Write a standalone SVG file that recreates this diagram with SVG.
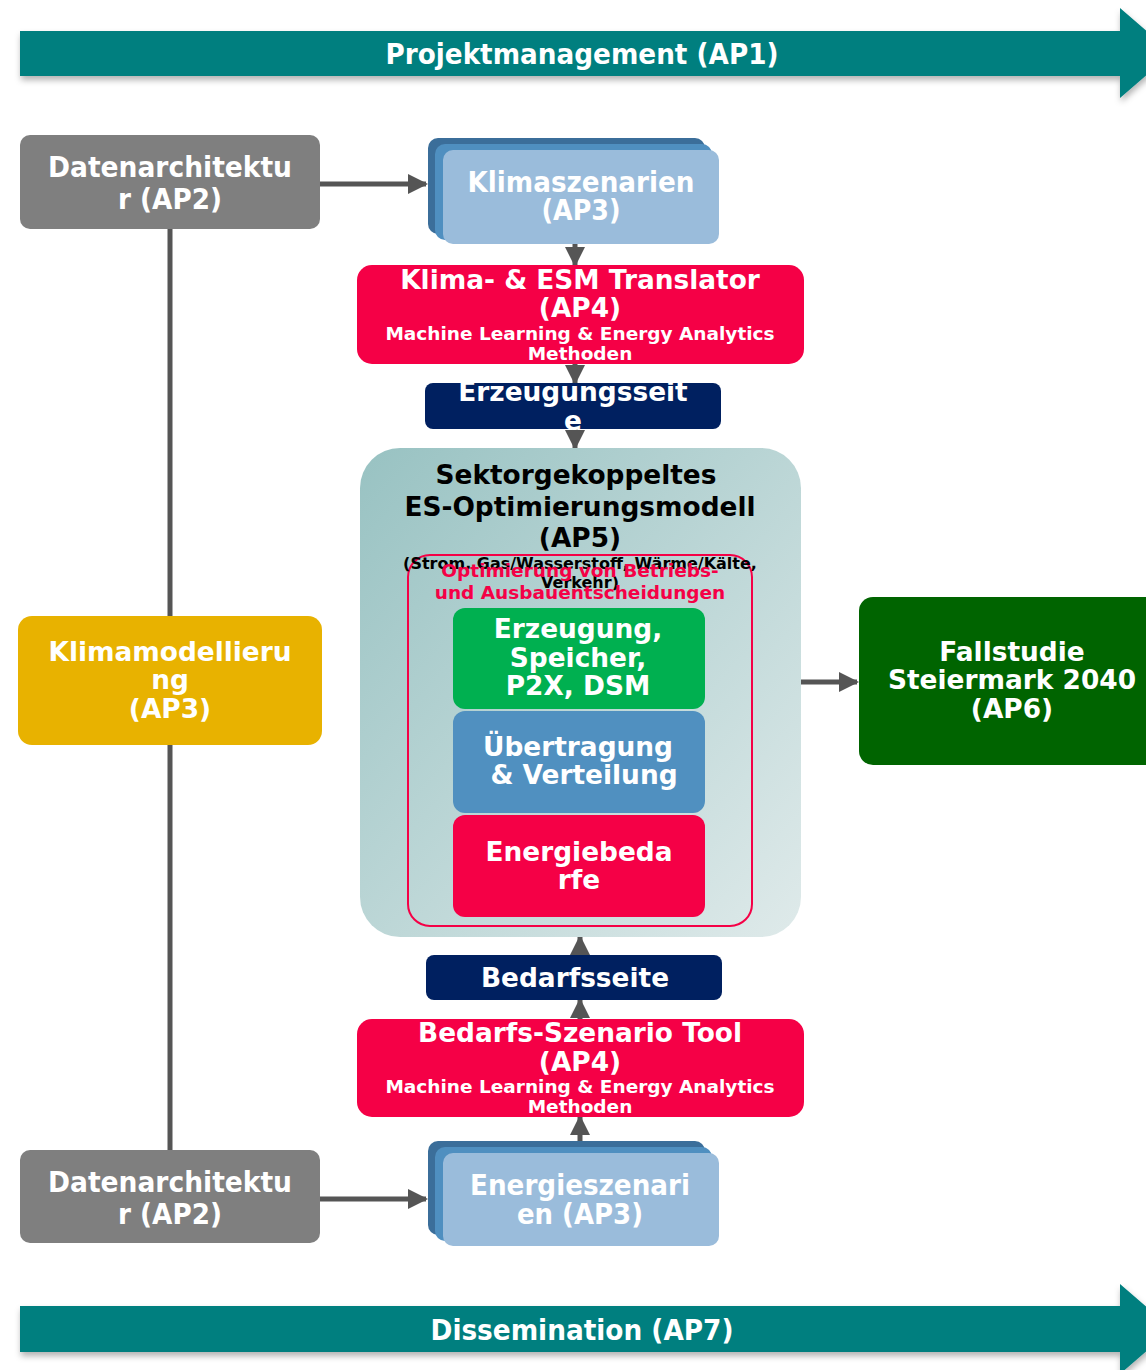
<svg xmlns="http://www.w3.org/2000/svg" width="1146" height="1370" viewBox="0 0 1146 1370">
<defs>
<style>
text{font-family:"DejaVu Sans","Liberation Sans",sans-serif;font-weight:bold;text-anchor:middle;fill:#fff}
.t26{font-size:26.4px}
.t28{font-size:28px}
.t18{font-size:18.5px}
.t15{font-size:16px}
.dark{fill:#000}
.red{fill:#f50046}
.conn{stroke:#555;stroke-width:5;fill:none}
</style>
<linearGradient id="cont" x1="0" y1="0" x2="1" y2="1">
<stop offset="0" stop-color="#98c2c2"/>
<stop offset="1" stop-color="#dfeaea"/>
</linearGradient>
<filter id="sh" x="-10%" y="-20%" width="120%" height="150%">
<feDropShadow dx="1" dy="4" stdDeviation="3" flood-color="#000" flood-opacity="0.3"/>
</filter>
<marker id="ah" viewBox="0 0 10 10" refX="9" refY="5" markerWidth="4" markerHeight="4" orient="auto" markerUnits="strokeWidth">
<path d="M0,0 L10,5 L0,10 z" fill="#555"/>
</marker>
</defs>

<g id="ap1">
<polygon points="20,31 1120,31 1120,8 1172,53 1120,98 1120,76 20,76" fill="#007f7f" filter="url(#sh)"/>
<text class="t28" x="582" y="64" textLength="393" lengthAdjust="spacingAndGlyphs">Projektmanagement (AP1)</text>
</g>

<g id="connectors">
<line class="conn" x1="170" y1="229" x2="170" y2="1150"/>
<line class="conn" x1="320" y1="184" x2="426" y2="184" marker-end="url(#ah)"/>
<line class="conn" x1="320" y1="1199" x2="426" y2="1199" marker-end="url(#ah)"/>
<line class="conn" x1="575" y1="244" x2="575" y2="265" marker-end="url(#ah)"/>
<line class="conn" x1="575" y1="364" x2="575" y2="383" marker-end="url(#ah)"/>
<line class="conn" x1="575" y1="429" x2="575" y2="448" marker-end="url(#ah)"/>
<line class="conn" x1="580" y1="955" x2="580" y2="937" marker-end="url(#ah)"/>
<line class="conn" x1="580" y1="1019" x2="580" y2="1000" marker-end="url(#ah)"/>
<line class="conn" x1="580" y1="1141" x2="580" y2="1117" marker-end="url(#ah)"/>
<line class="conn" x1="801" y1="682" x2="857" y2="682" marker-end="url(#ah)"/>
</g>

<g id="datenarchitektur-top">
<rect x="20" y="135" width="300" height="94" rx="10" fill="#7f7f7f"/>
<text class="t28" x="170" y="177" textLength="244" lengthAdjust="spacingAndGlyphs">Datenarchitektu</text>
<text class="t28" x="170" y="209" textLength="104" lengthAdjust="spacingAndGlyphs">r (AP2)</text>
</g>

<g id="klimaszenarien">
<rect x="428" y="138" width="277" height="96" rx="10" fill="#3b6e9a"/>
<rect x="435" y="144" width="277" height="96" rx="10" fill="#4f8fc0"/>
<rect x="443" y="150" width="276" height="94" rx="10" fill="#9abcdb"/>
<text class="t28" x="581" y="192" textLength="227" lengthAdjust="spacingAndGlyphs">Klimaszenarien</text>
<text class="t28" x="581" y="220" textLength="79" lengthAdjust="spacingAndGlyphs">(AP3)</text>
</g>

<g id="translator">
<rect x="357" y="265" width="447" height="99" rx="15" fill="#f50046"/>
<text class="t26" x="580" y="289">Klima- &amp; ESM Translator</text>
<text class="t26" x="580" y="317">(AP4)</text>
<text class="t18" x="580" y="340">Machine Learning &amp; Energy Analytics</text>
<text class="t18" x="580" y="360">Methoden</text>
</g>

<g id="erzeugungsseite">
<rect x="425" y="383" width="296" height="46" rx="8" fill="#002060"/>
<text class="t26" x="573" y="401">Erzeugungsseit</text>
<text class="t26" x="573" y="430">e</text>
</g>

<g id="es-modell">
<rect x="360" y="448" width="441" height="489" rx="40" fill="url(#cont)"/>
<text class="t26 dark" x="576" y="484">Sektorgekoppeltes</text>
<text class="t26 dark" x="580" y="516">ES-Optimierungsmodell</text>
<text class="t26 dark" x="580" y="547">(AP5)</text>
<rect x="408" y="555" width="344" height="371" rx="22" fill="none" stroke="#f50046" stroke-width="2"/>
<text class="t15 dark" x="580" y="569">(Strom, Gas/Wasserstoff, Wärme/Kälte,</text>
<text class="t15 dark" x="580" y="588">Verkehr)</text>
<text class="t18 red" x="580" y="577">Optimierung von Betriebs-</text>
<text class="t18 red" x="580" y="599">und Ausbauentscheidungen</text>
</g>

<g id="erzeugung">
<rect x="453" y="608" width="252" height="101" rx="12" fill="#00b050"/>
<text class="t26" x="578" y="638">Erzeugung,</text>
<text class="t26" x="578" y="667">Speicher,</text>
<text class="t26" x="578" y="695">P2X, DSM</text>
</g>

<g id="uebertragung">
<rect x="453" y="711" width="252" height="102" rx="12" fill="#5090c0"/>
<text class="t26" x="578" y="756">Übertragung</text>
<text class="t26" x="584" y="784">&amp; Verteilung</text>
</g>

<g id="energiebedarfe">
<rect x="453" y="815" width="252" height="102" rx="12" fill="#f50046"/>
<text class="t26" x="579" y="861">Energiebeda</text>
<text class="t26" x="579" y="889">rfe</text>
</g>

<g id="fallstudie">
<rect x="859" y="597" width="310" height="168" rx="14" fill="#006400"/>
<text class="t26" x="1012" y="661">Fallstudie</text>
<text class="t26" x="1012" y="689">Steiermark 2040</text>
<text class="t26" x="1012" y="718">(AP6)</text>
</g>

<g id="klimamodellierung">
<rect x="18" y="616" width="304" height="129" rx="14" fill="#e8b200"/>
<text class="t26" x="170" y="661">Klimamodellieru</text>
<text class="t26" x="170" y="689">ng</text>
<text class="t26" x="170" y="718">(AP3)</text>
</g>

<g id="bedarfsseite">
<rect x="426" y="955" width="296" height="45" rx="8" fill="#002060"/>
<text class="t26" x="575" y="987">Bedarfsseite</text>
</g>

<g id="bedarfs-tool">
<rect x="357" y="1019" width="447" height="98" rx="15" fill="#f50046"/>
<text class="t26" x="580" y="1042">Bedarfs-Szenario Tool</text>
<text class="t26" x="580" y="1071">(AP4)</text>
<text class="t18" x="580" y="1093">Machine Learning &amp; Energy Analytics</text>
<text class="t18" x="580" y="1113">Methoden</text>
</g>

<g id="datenarchitektur-bottom">
<rect x="20" y="1150" width="300" height="93" rx="10" fill="#7f7f7f"/>
<text class="t28" x="170" y="1192" textLength="244" lengthAdjust="spacingAndGlyphs">Datenarchitektu</text>
<text class="t28" x="170" y="1224" textLength="104" lengthAdjust="spacingAndGlyphs">r (AP2)</text>
</g>

<g id="energieszenarien">
<rect x="428" y="1141" width="277" height="94" rx="10" fill="#3b6e9a"/>
<rect x="435" y="1147" width="277" height="94" rx="10" fill="#4f8fc0"/>
<rect x="443" y="1153" width="276" height="93" rx="10" fill="#9abcdb"/>
<text class="t28" x="580" y="1195" textLength="220" lengthAdjust="spacingAndGlyphs">Energieszenari</text>
<text class="t28" x="580" y="1224" textLength="126" lengthAdjust="spacingAndGlyphs">en (AP3)</text>
</g>

<g id="ap7">
<polygon points="20,1306 1120,1306 1120,1284 1172,1329 1120,1374 1120,1352 20,1352" fill="#007f7f" filter="url(#sh)"/>
<text class="t28" x="582" y="1340" textLength="303" lengthAdjust="spacingAndGlyphs">Dissemination (AP7)</text>
</g>
</svg>
